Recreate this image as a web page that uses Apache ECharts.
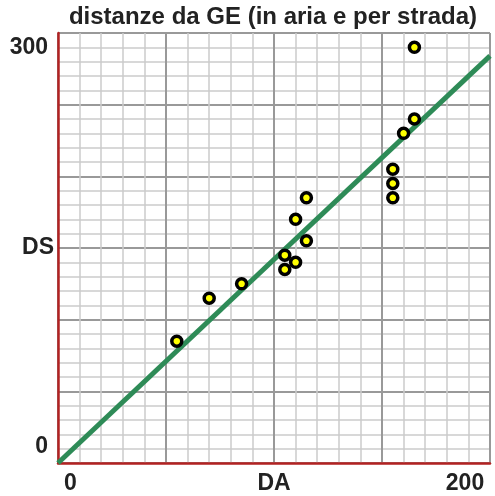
<!DOCTYPE html>
<html>
<head>
<meta charset="utf-8">
<script src="https://cdn.jsdelivr.net/npm/echarts@6/dist/echarts.min.js"></script>
<style>html,body{margin:0;padding:0;background:#fff}#c{width:495px;height:496px}</style>
</head>
<body>
<div id="c"></div>
<script>
var titleText = 'distanze da GE (in aria e per strada)';
var daValues = [55, 70, 85, 105, 105, 110, 110, 115, 115, 155, 155, 155, 160, 165, 165];
var dsValues = [85, 115, 125, 145, 135, 140, 170, 155, 185, 205, 195, 185, 230, 240, 290];
var lineX = [0, 200];
var lineY = [0, 284];
var xTickLabels = {0: '0', 100: 'DA', 200: '200'};
var yTickLabels = {0: '0', 150: 'DS', 300: '300'};

var points = daValues.map(function (x, i) { return [x, dsValues[i]]; });
var lineData = lineX.map(function (x, i) { return [x, lineY[i]]; });

var chart = echarts.init(document.getElementById('c'));
var lblFont = {fontFamily: 'Liberation Sans, Arial, sans-serif', fontWeight: 'bold', fontSize: 23, color: '#222'};
chart.setOption({
  animation: false,
  title: {
    text: titleText,
    left: 268, top: 0, textAlign: 'center',
    textStyle: {fontFamily: 'Liberation Sans, Arial, sans-serif', fontWeight: 'bold', fontSize: 24, color: '#222'}
  },
  grid: {left: 58, right: 5, top: 33, bottom: 33},
  xAxis: {
    type: 'value', min: 0, max: 200, interval: 50,
    axisLine: {show: true, onZero: false, lineStyle: {color: '#b22222', width: 2.5}},
    axisTick: {show: false},
    minorTick: {show: false, splitNumber: 5},
    splitLine: {show: true, lineStyle: {color: '#999', width: 2}},
    minorSplitLine: {show: true, lineStyle: {color: '#ccc', width: 1.5}},
    axisLabel: Object.assign({
      margin: 9,
      formatter: function (v) {
        var t = xTickLabels[v];
        if (t === undefined) return '';
        if (v === 0) return '{l|' + t + '}';
        if (v === 200) return '{r|' + t + '}';
        return t;
      },
      rich: {
        l: Object.assign({padding: [0, 0, 0, 25]}, lblFont),
        r: Object.assign({padding: [0, 50, 0, 0]}, lblFont)
      }
    }, lblFont)
  },
  yAxis: {
    type: 'value', min: 0, max: 300, interval: 50,
    axisLine: {show: true, onZero: false, lineStyle: {color: '#b22222', width: 2.5}},
    axisTick: {show: false},
    minorTick: {show: false, splitNumber: 5},
    splitLine: {show: true, lineStyle: {color: '#999', width: 2}},
    minorSplitLine: {show: true, lineStyle: {color: '#ccc', width: 1.5}},
    axisLabel: Object.assign({
      margin: 4,
      formatter: function (v) {
        var t = yTickLabels[v];
        if (t === undefined) return '';
        if (v === 0) return '{b|' + t + '}';
        if (v === 300) return '{t|' + t + '}';
        if (v === 150) return '{m|' + t + '}';
        return t;
      },
      rich: {
        b: Object.assign({padding: [0, 6, 32, 0]}, lblFont),
        t: Object.assign({padding: [30, 6, 0, 0]}, lblFont),
        m: Object.assign({padding: [0, 0, 0, 0]}, lblFont)
      }
    }, lblFont)
  },
  series: [
    {
      type: 'line', data: lineData, symbol: 'none', clip: true,
      lineStyle: {color: '#2e8b57', width: 5}, z: 3
    },
    {
      type: 'scatter', data: points, symbol: 'circle', symbolSize: 10,
      itemStyle: {color: '#ffff00', borderColor: '#000', borderWidth: 3.5, opacity: 1}, z: 4
    }
  ]
});
</script>
</body>
</html>
